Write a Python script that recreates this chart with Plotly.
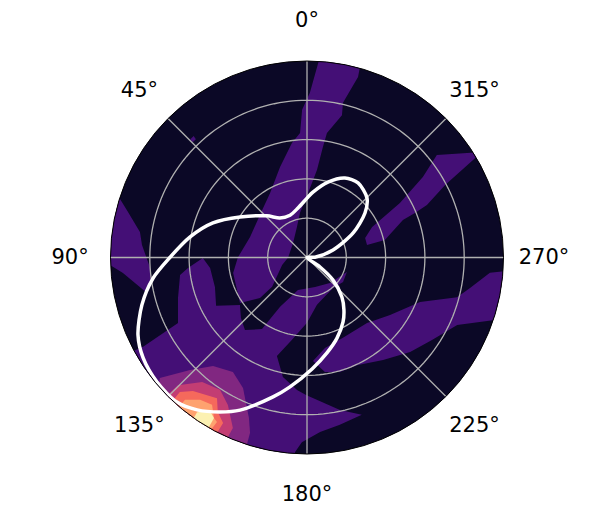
import numpy as np
import plotly.graph_objects as go

# Filled contour bands: (theta in degrees, r in radial units 0-5)
blob_theta = [72.6, 72.6, 75.7, 81.3, 85.7, 93.8, 97.8, 102.5, 94.8, 90.2]
blob_r = [5.3, 4.99, 4.70, 4.30, 4.21, 4.00, 4.01, 4.17, 4.70, 5.3]

strand_theta = [90, 70.2, 43.5, 29.8, 16.6, 7.5, 3.2, 1.9, -1, -4.1, -15.3, -15.8, -13.1, -13.8, -9.1,
                -8.2, -6.5, -1, 8.9, 18.2, 44, 90, 106.7, 130.1, 130.8, 124.2, 101.8]
strand_r = [1.76, 1.54, 1.66, 1.89, 2.40, 2.94, 3.17, 3.76, 4.19, 5.3, 5.3, 4.77, 4.04, 3.73, 3.21,
            2.84, 2.24, 1.64, 1.15, 0.82, 0.51, 0.48, 0.66, 1.16, 1.58, 2.06, 1.92]

main_theta = [118.1, 118.6, 116.9, 107.4, 97.8, 95, 90.3, 96.2, 107.8, 118, 125.3, 132.5, 139.5, 147.8,
              151.4, 164.5, 195.2, 222, 250, 235.8, 220.4, 191.9, 180, 169.7, 163, 168.6, 175.7, 179.6,
              192.2, 199.2, 191.1, 184.3, 178.4, 176.5, 176, 160, 140]
main_r = [5.3, 4.75, 3.68, 3.44, 3.26, 3.04, 2.65, 2.48, 2.46, 2.62, 2.09, 2.28, 2.43, 2.15,
          1.43, 0.86, 0.78, 0.87, 1.08, 1.11, 1.02, 1.23, 1.66, 2.13, 2.62, 3.10, 3.38, 3.50,
          3.97, 4.24, 4.34, 4.45, 4.70, 4.96, 5.3, 5.3, 5.3]

lower_theta = [183.3, 191.2, 204.1, 222.5, 235.3, 248.5, 255.2, 259.4, 265.2, 266.6, 253, 245.8, 236.6,
               227.5, 216.6, 204.9, 196.1, 188.9]
lower_r = [2.64, 2.35, 2.24, 2.26, 2.57, 3.09, 3.95, 4.22, 4.67, 5.3, 5.3, 4.19, 3.81,
           3.56, 3.25, 3.02, 3.03, 2.95]

upper_theta = [308.3, 301.1, 297.7, 293.6, 292.4, 291.3, 282.6, 281.8, 288.6, 295.1, 300.4, 304.8]
upper_r = [4.21, 5.2, 3.97, 3.33, 2.97, 2.62, 2.03, 1.56, 1.56, 1.83, 2.74, 3.59]

speck_theta = [43.2, 44.8, 44.6, 43.0]
speck_r = [4.13, 4.13, 4.23, 4.23]

level2_theta = [132.9, 129.3, 133.9, 139.1, 147.1, 153.9, 160.1, 162, 162.3]
level2_r = [5.2, 4.84, 4.13, 3.65, 3.47, 3.70, 4.34, 4.69, 5.2]

level3_theta = [134.5, 134.7, 139.9, 146.7, 151.8, 156.5, 156]
level3_r = [5.2, 4.62, 4.14, 4.03, 4.26, 4.73, 5.2]

level4_theta = [137, 136.6, 139.5, 147.4, 150, 153.1, 152.7]
level4_r = [5.2, 4.71, 4.47, 4.25, 4.54, 4.72, 5.2]

level5_theta = [139.4, 139.4, 143.1, 147.2, 149.9, 151.3, 150.6]
level5_r = [5.2, 4.77, 4.53, 4.46, 4.72, 4.77, 5.2]

level6_theta = [144.6, 147.7, 149.9, 150, 145]
level6_r = [4.83, 4.62, 4.72, 5.2, 5.2]

# White curve
curve_theta = [240, 233.8, 229.1, 221.5, 215.2, 209.2, 200.4, 191.8, 182.6, 172.5, 166.3, 156.3, 150.6, 144.2, 138,
               129.7, 121.5, 114.6, 106, 97.6, 90, 80, 69.8, 58.8, 43.9, 34.4, 21.8, 10.3, -1, -5.2, -15.5,
               -25.5, -34.4, -45.2, -52.5, -62, -73.9, -88, -90]
curve_r = [0, 0.41, 0.87, 1.34, 1.63, 1.88, 2.19, 2.48, 2.84, 3.32, 3.65, 4.24, 4.51, 4.78, 4.95,
           4.96, 4.89, 4.73, 4.37, 3.95, 3.49, 3.02, 2.55, 1.99, 1.47, 1.22, 1.16, 1.28, 1.54, 1.67, 1.99,
           2.24, 2.30, 2.15, 1.86, 1.33, 0.69, 0.2, 0]

# Axis furniture
tick_angles = [0, 45, 90, 135, 180, 225, 270, 315]
tick_labels = ["0°", "45°", "90°", "135°", "180°", "225°", "270°", "315°"]
ring_values = [1, 2, 3, 4]
r_max = 5
label_r = 6.03
label_r_max = 6.2

DARK = "#0b0826"
PURPLE = "#440f76"
bands = [
    (blob_theta, blob_r, PURPLE),
    (strand_theta, strand_r, PURPLE),
    (main_theta, main_r, PURPLE),
    (lower_theta, lower_r, PURPLE),
    (upper_theta, upper_r, PURPLE),
    (speck_theta, speck_r, PURPLE),
    (level2_theta, level2_r, "#812781"),
    (level3_theta, level3_r, "#c33d73"),
    (level4_theta, level4_r, "#f5695c"),
    (level5_theta, level5_r, "#fea26f"),
    (level6_theta, level6_r, "#fcf1b2"),
]

fig = go.Figure()
for th, rr, col in bands:
    fig.add_trace(go.Scatterpolar(theta=th, r=rr, mode="none", fill="toself", fillcolor=col,
                                  hoverinfo="skip", showlegend=False))

# Grid is drawn as traces so it sits above the filled bands
ring_theta = np.linspace(0, 360, 181)
grid_theta, grid_r = [], []
for v in ring_values:
    grid_theta += list(ring_theta) + [None]
    grid_r += [v] * len(ring_theta) + [None]
for a in tick_angles:
    grid_theta += [a, a, None]
    grid_r += [0, r_max, None]
fig.add_trace(go.Scatterpolar(theta=grid_theta, r=grid_r, mode="lines",
                              line=dict(color="#b0b0b0", width=1.3), connectgaps=False,
                              hoverinfo="skip", showlegend=False))

fig.add_trace(go.Scatterpolar(theta=curve_theta, r=curve_r, mode="lines",
                              line=dict(color="white", width=3.5, shape="spline", smoothing=0.8),
                              showlegend=False))

# Angle labels live on a second, concentric polar subplot with a longer radial range
fig.add_trace(go.Scatterpolar(theta=tick_angles, r=[label_r] * len(tick_angles), mode="text",
                              text=tick_labels, textposition="middle center", subplot="polar2",
                              textfont=dict(family="DejaVu Sans", size=21, color="black"),
                              cliponaxis=False, hoverinfo="skip", showlegend=False))

W, H = 598, 511
CX, CY, RAD = 307.0, 257.5, 196.5
LABEL_DY = 1.5
RAD2 = RAD * label_r_max / r_max
fig.update_layout(
    width=W, height=H, paper_bgcolor="white", showlegend=False,
    margin=dict(l=0, r=0, t=0, b=0),
    polar=dict(
        bgcolor=DARK,
        domain=dict(x=[(CX - RAD) / W, (CX + RAD) / W], y=[1 - (CY + RAD) / H, 1 - (CY - RAD) / H]),
        angularaxis=dict(rotation=90, direction="counterclockwise", showgrid=False, ticks="",
                         showticklabels=False, showline=True, linecolor="black", linewidth=1),
        radialaxis=dict(range=[0, r_max], showgrid=False, showticklabels=False, ticks="",
                        showline=False),
    ),
    polar2=dict(
        bgcolor="rgba(0,0,0,0)",
        domain=dict(x=[(CX - RAD2) / W, (CX + RAD2) / W],
                    y=[1 - (CY + LABEL_DY + RAD2) / H, 1 - (CY + LABEL_DY - RAD2) / H]),
        angularaxis=dict(rotation=90, direction="counterclockwise", showgrid=False, ticks="",
                         showticklabels=False, showline=False),
        radialaxis=dict(range=[0, label_r_max], showgrid=False, showticklabels=False, ticks="",
                        showline=False),
    ),
)
fig.write_html("out.html", config=dict(displayModeBar=False),
               post_script="document.body.style.margin='0';")
